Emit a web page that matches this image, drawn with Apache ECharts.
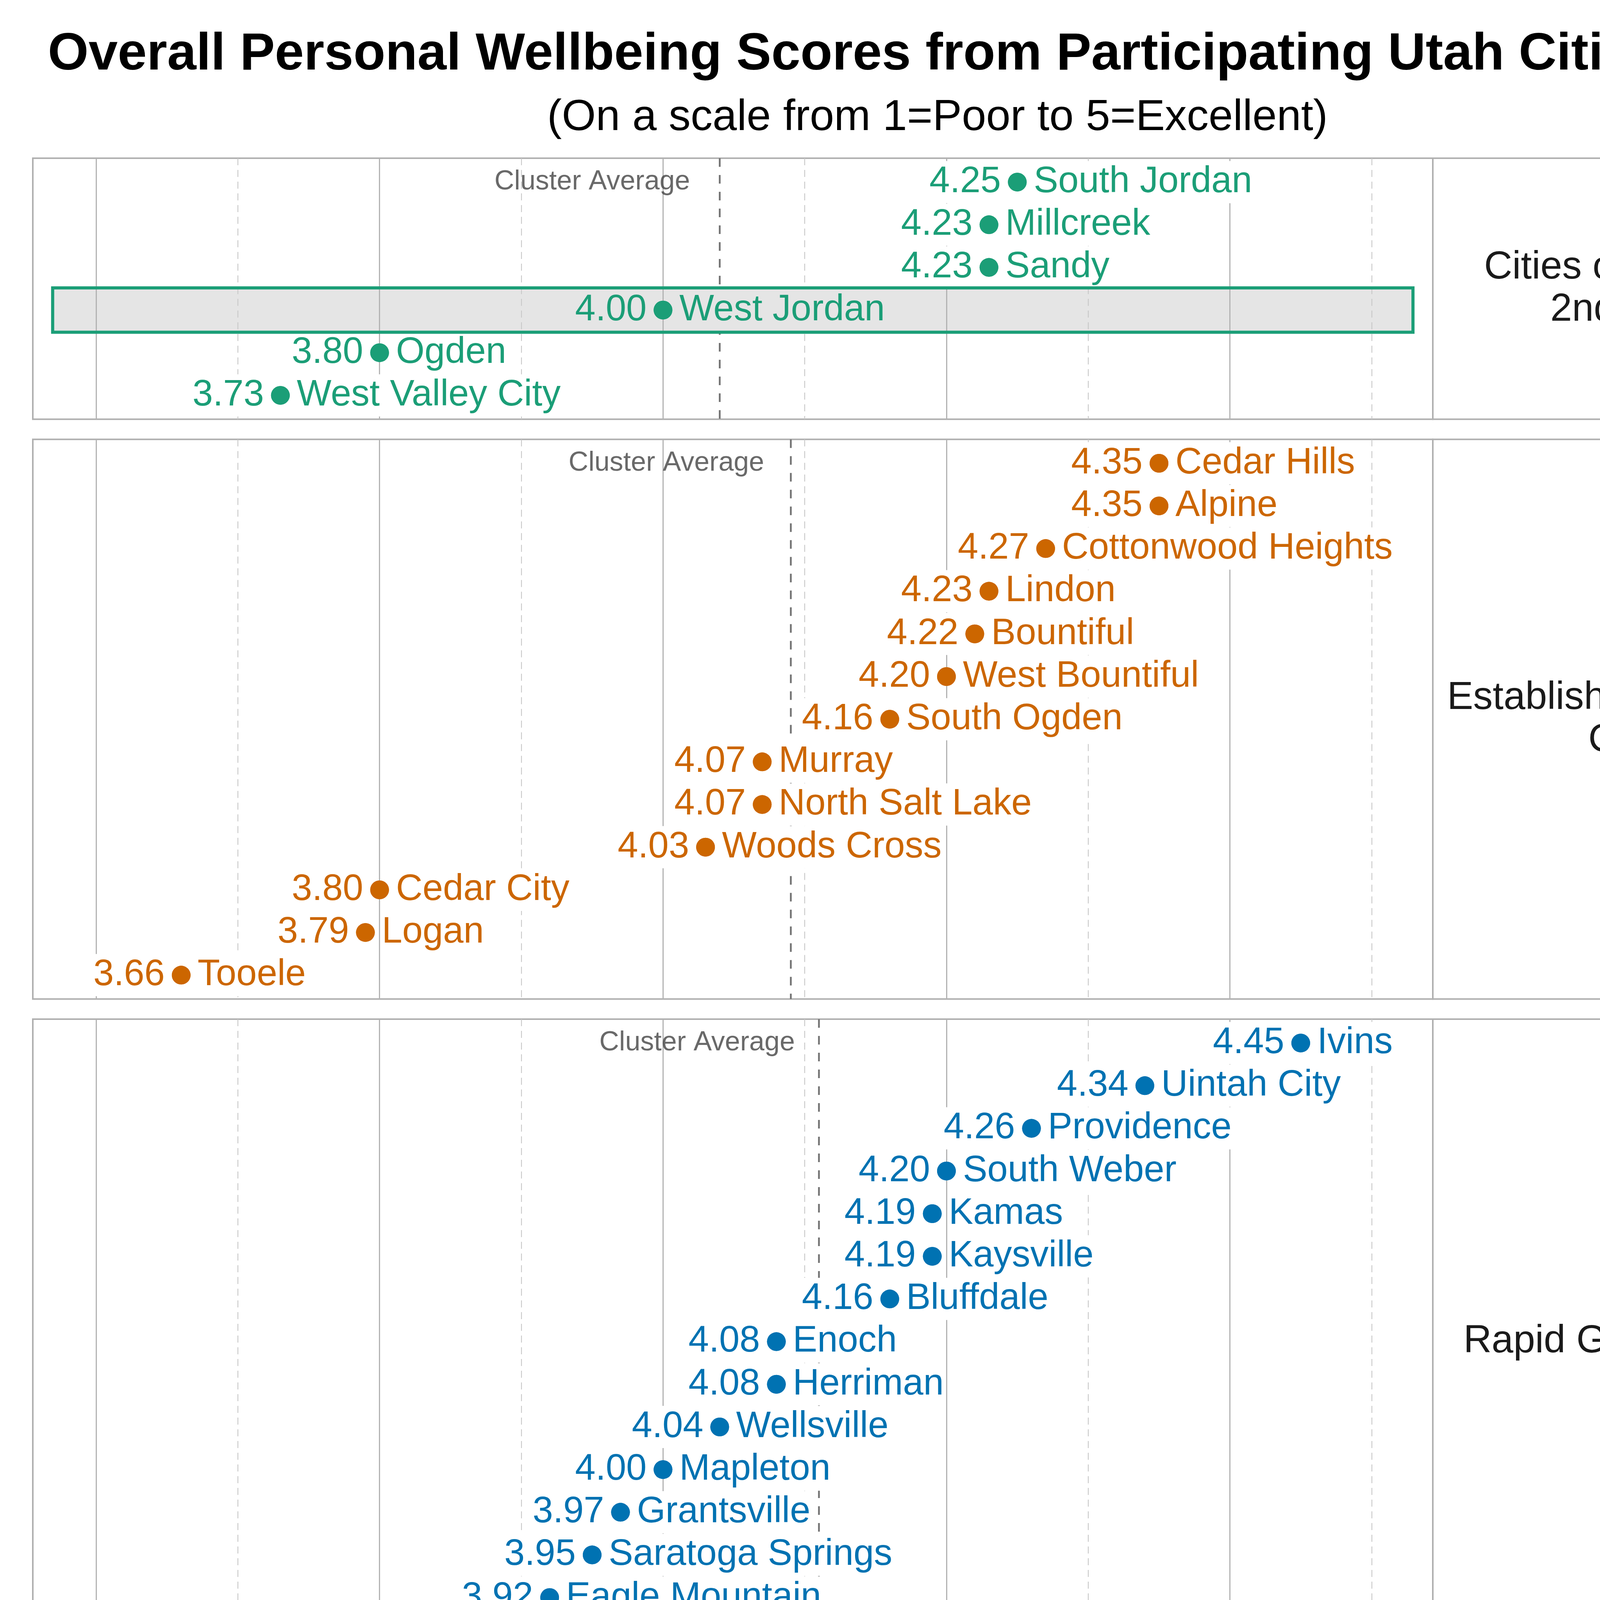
<!DOCTYPE html>
<html>
<head>
<meta charset="utf-8">
<script src="https://cdn.jsdelivr.net/npm/echarts@6/dist/echarts.min.js"></script>
<style>
html,body{margin:0;padding:0;background:#ffffff;}
#chart{width:4800px;height:7200px;}
</style>
</head>
<body>
<div id="chart"></div>
<script>
// ---------------- DATA ----------------
const clusterNames = [
  "Cities of the 1st & 2nd Class",
  "Established/Mid-sized Cities",
  "Rapid Growth Cities",
  "Rural Hub/Resort Communities",
  "Traditional Rural Communities"
];
const clusterStripLabels = [
  "Cities of the 1st &\n2nd Class",
  "Established/Mid-sized\nCities",
  "Rapid Growth Cities",
  "Rural Hub/Resort\nCommunities",
  "Traditional Rural\nCommunities"
];
const clusterColors = ["#1b9e77", "#cc6600", "#0072b2", "#b2182b", "#6a3d9a"];

const citiesFirstSecond = ["South Jordan", "Millcreek", "Sandy", "West Jordan", "Ogden", "West Valley City"];
const scoresFirstSecond = [4.25, 4.23, 4.23, 4.00, 3.80, 3.73];

const citiesEstablished = ["Cedar Hills", "Alpine", "Cottonwood Heights", "Lindon", "Bountiful", "West Bountiful",
  "South Ogden", "Murray", "North Salt Lake", "Woods Cross", "Cedar City", "Logan", "Tooele"];
const scoresEstablished = [4.35, 4.35, 4.27, 4.23, 4.22, 4.20, 4.16, 4.07, 4.07, 4.03, 3.80, 3.79, 3.66];

const citiesRapid = ["Ivins", "Uintah City", "Providence", "South Weber", "Kamas", "Kaysville", "Bluffdale",
  "Enoch", "Herriman", "Wellsville", "Mapleton", "Grantsville", "Saratoga Springs", "Eagle Mountain", "Lehi"];
const scoresRapid = [4.45, 4.34, 4.26, 4.20, 4.19, 4.19, 4.16, 4.08, 4.08, 4.04, 4.00, 3.97, 3.95, 3.92, 3.88];

const citiesRuralHub = ["Alta", "Midway", "Springdale", "Morgan", "Heber", "Manila", "Nephi", "Richfield",
  "Bluff", "Moab", "Blanding", "Vernal", "Tremonton", "Wendover"];
const scoresRuralHub = [4.44, 4.38, 4.27, 4.23, 4.19, 4.13, 4.01, 3.99, 3.98, 3.81, 3.78, 3.75, 3.72, 3.67];

const citiesTraditional = ["Mayfield", "Toquerville", "Lewiston", "Lake Point", "La Verkin", "Orangeville",
  "Stockton", "Ferron", "Delta"];
const scoresTraditional = [4.27, 4.24, 4.22, 4.13, 3.97, 3.96, 3.92, 3.89, 3.77];

const highlightCity = "West Jordan";

const majorTicks = [3.6, 3.8, 4.0, 4.2, 4.4];
const minorTicks = [3.7, 3.9, 4.1, 4.3, 4.5];
const xAxisMin = 3.5553;
const xAxisMax = 4.5432;

const titleText = "Overall Personal Wellbeing Scores from Participating Utah Cities (2026)";
const subtitleText = "(On a scale from 1=Poor to 5=Excellent)";
const xAxisTitle = "Average Score";
const avgLabelText = "Cluster Average";

// ---------------- LAYOUT / STYLE ----------------
const FONT = '"Liberation Sans", Arial, Helvetica, sans-serif';
const PLOT_LEFT = 84, PLOT_RIGHT = 3668, STRIP_RIGHT = 4714;
const PANEL_TOP0 = 405, PANEL_GAP = 51.5, ROW_UNIT = 109.2, ROW_PAD = 0.56;
const BORDER = "#b0b0b0";
const HL_FILL = "#e5e5e5";

const clusterCities = [citiesFirstSecond, citiesEstablished, citiesRapid, citiesRuralHub, citiesTraditional];
const clusterScores = [scoresFirstSecond, scoresEstablished, scoresRapid, scoresRuralHub, scoresTraditional];

const grids = [], xAxes = [], yAxes = [], seriesList = [], graphics = [];

graphics.push({
  type: "text", x: 2400, y: 141, z: 10,
  style: { text: titleText, fill: "#000", font: "bold 134px " + FONT,
           align: "center", verticalAlign: "middle", textAlign: "center", textVerticalAlign: "middle" }
});
graphics.push({
  type: "text", x: 2400, y: 302, z: 10,
  style: { text: subtitleText, fill: "#000", font: "112px " + FONT,
           align: "center", verticalAlign: "middle", textAlign: "center", textVerticalAlign: "middle" }
});

let panelTop = PANEL_TOP0;
const lastIdx = clusterNames.length - 1;
clusterNames.forEach((name, i) => {
  const cities = clusterCities[i];
  const scores = clusterScores[i];
  const color = clusterColors[i];
  const n = cities.length;
  const h = (n - 1 + 2 * ROW_PAD) * ROW_UNIT;

  grids.push({ left: PLOT_LEFT, top: panelTop, width: PLOT_RIGHT - PLOT_LEFT, height: h,
               show: true, borderColor: BORDER, borderWidth: 4, backgroundColor: "transparent" });
  xAxes.push({
    type: "value", gridIndex: i, min: xAxisMin, max: xAxisMax,
    axisLine: { show: false }, axisTick: { show: false }, splitLine: { show: false },
    axisLabel: i === lastIdx ? {
      show: true, customValues: majorTicks, formatter: v => Number(v).toFixed(1),
      fontSize: 74, color: "#1a1a1a", margin: 14, fontFamily: FONT
    } : { show: false }
  });
  yAxes.push({ type: "value", gridIndex: i, inverse: true, min: -ROW_PAD, max: n - 1 + ROW_PAD, show: false,
               splitLine: { show: false } });

  const hlIdx = cities.indexOf(highlightCity);

  if (hlIdx >= 0) {
    seriesList.push({
      type: "scatter", xAxisIndex: i, yAxisIndex: i, data: [], z: 1, silent: true, animation: false,
      markArea: {
        z: 1, silent: true,
        itemStyle: { color: HL_FILL, borderWidth: 0 },
        label: { show: false },
        data: [[{ xAxis: xAxisMin + 0.014, yAxis: hlIdx - 0.52 }, { xAxis: xAxisMax - 0.014, yAxis: hlIdx + 0.52 }]]
      }
    });
  }

  const gridLineData = majorTicks.map(v => ({ xAxis: v, lineStyle: { color: "#b3b3b3", width: 3, type: "solid" } }))
    .concat(minorTicks.map(v => ({ xAxis: v, lineStyle: { color: "#c8c8c8", width: 2.2, type: [18, 12] } })));
  seriesList.push({
    type: "scatter", xAxisIndex: i, yAxisIndex: i, data: [], z: 2, silent: true, animation: false,
    markLine: { z: 2, silent: true, symbol: ["none", "none"], label: { show: false }, animation: false,
                emphasis: { disabled: true }, data: gridLineData }
  });

  const avg = scores.reduce((a, b) => a + b, 0) / n;
  seriesList.push({
    type: "scatter", xAxisIndex: i, yAxisIndex: i, z: 3, silent: true, animation: false,
    symbolSize: 0,
    data: [[avg, 0]],
    label: { show: true, position: "left", distance: 76, formatter: avgLabelText,
             color: "#444444", fontSize: 70, fontFamily: FONT },
    markLine: { z: 3, silent: true, symbol: ["none", "none"], label: { show: false }, animation: false,
                emphasis: { disabled: true },
                lineStyle: { color: "#737373", width: 4.5, type: [22, 21] },
                data: [{ xAxis: avg }] }
  });

  const makePts = () => scores.map((s, k) => {
    const item = { value: [s, k], name: cities[k] };
    if (k === hlIdx) item.label = { backgroundColor: HL_FILL };
    return item;
  });

  const baseLabel = { show: true, color: color, fontSize: 94, fontFamily: FONT, lineHeight: 108,
                      backgroundColor: "#ffffff", padding: [0, 0], distance: 18 };

  seriesList.push({
    type: "scatter", xAxisIndex: i, yAxisIndex: i, z: 6, silent: true, animation: false,
    symbol: "circle", symbolSize: 48, itemStyle: { color: color, opacity: 1 },
    data: makePts(),
    label: Object.assign({}, baseLabel, { position: "left", formatter: p => p.value[0].toFixed(2) })
  });
  seriesList.push({
    type: "scatter", xAxisIndex: i, yAxisIndex: i, z: 6, silent: true, animation: false,
    symbol: "circle", symbolSize: 48, itemStyle: { color: color, opacity: 1 },
    data: makePts(),
    label: Object.assign({}, baseLabel, { position: "right", formatter: p => p.name })
  });

  if (hlIdx >= 0) {
    seriesList.push({
      type: "scatter", xAxisIndex: i, yAxisIndex: i, data: [], z: 8, silent: true, animation: false,
      markArea: {
        z: 8, silent: true,
        itemStyle: { color: "rgba(0,0,0,0)", borderColor: color, borderWidth: 8 },
        label: { show: false },
        data: [[{ xAxis: xAxisMin + 0.014, yAxis: hlIdx - 0.52 }, { xAxis: xAxisMax - 0.014, yAxis: hlIdx + 0.52 }]]
      }
    });
  }

  graphics.push({
    type: "rect", z: 5, silent: true,
    shape: { x: PLOT_RIGHT, y: panelTop, width: STRIP_RIGHT - PLOT_RIGHT, height: h },
    style: { fill: "none", stroke: BORDER, lineWidth: 4 }
  });
  graphics.push({
    type: "text", z: 6, silent: true,
    x: (PLOT_RIGHT + STRIP_RIGHT) / 2, y: panelTop + h / 2,
    style: { text: clusterStripLabels[i], fill: "#1a1a1a", font: "100px " + FONT, lineHeight: 108,
             align: "center", verticalAlign: "middle", textAlign: "center", textVerticalAlign: "middle" }
  });

  panelTop += h + PANEL_GAP;
});

graphics.push({
  type: "text", x: (PLOT_LEFT + PLOT_RIGHT) / 2, y: 7072, z: 10,
  style: { text: xAxisTitle, fill: "#000", font: "82px " + FONT,
           align: "center", verticalAlign: "middle", textAlign: "center", textVerticalAlign: "middle" }
});

const chart = echarts.init(document.getElementById("chart"), null, { renderer: "canvas", width: 4800, height: 7200 });
chart.setOption({
  animation: false,
  backgroundColor: "#ffffff",
  textStyle: { fontFamily: FONT },
  grid: grids,
  xAxis: xAxes,
  yAxis: yAxes,
  series: seriesList,
  graphic: { elements: graphics }
});
</script>
</body>
</html>
